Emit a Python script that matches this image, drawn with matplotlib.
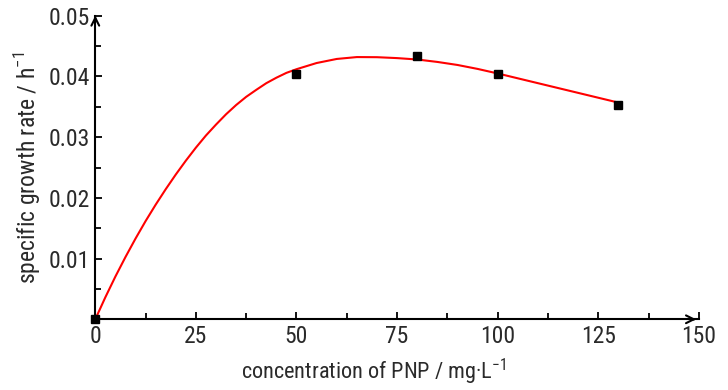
import matplotlib
matplotlib.use("Agg")
import matplotlib.pyplot as plt
from matplotlib import font_manager

# Measured data
conc = [0, 50, 80, 100, 130]
rate = [0.0, 0.0404, 0.0434, 0.0404, 0.0353]

# Fitted curve
fit_x = [0, 2.5, 5, 7.5, 10, 12.5, 15, 17.5, 20, 22.5, 25, 27.5, 30, 32.5, 35,
         37.5, 40, 42.5, 45, 47.5, 50, 55, 60, 65, 70, 75,
         80, 85, 90, 95, 100, 105, 110, 115, 120, 125, 130]
fit_y = [0.0, 0.00363, 0.00705, 0.01026, 0.0133, 0.01618, 0.01888, 0.02143,
         0.02385, 0.02613, 0.02828, 0.03028, 0.03208, 0.03378, 0.0353,
         0.03665, 0.0378, 0.0389, 0.0398, 0.0406, 0.0412, 0.04222,
         0.04289, 0.0432, 0.04318, 0.04303, 0.0428, 0.0424, 0.0419, 0.04125,
         0.0405, 0.0397, 0.0389, 0.0381, 0.0373, 0.0365, 0.0357]

x_ticks = [0, 25, 50, 75, 100, 125, 150]
y_ticks = [0.01, 0.02, 0.03, 0.04, 0.05]

fam = "Liberation Sans"
stretch = "normal"
for f in font_manager.fontManager.ttflist:
    if "Narrow" in f.name and "Liberation" in f.name:
        fam = f.name
        break
else:
    for f in font_manager.fontManager.ttflist:
        if f.name in ("Roboto Condensed", "Open Sans Condensed"):
            fam = f.name
            break
    else:
        for f in font_manager.fontManager.ttflist:
            if f.name == "DejaVu Sans" and str(f.stretch) in ("condensed", "semi-condensed"):
                fam = "DejaVu Sans"
                stretch = "condensed"
                break

plt.rcParams["font.family"] = [fam, "DejaVu Sans"]
plt.rcParams["font.stretch"] = stretch
plt.rcParams["mathtext.fontset"] = "custom"
plt.rcParams["mathtext.rm"] = fam

TXT = "#2a2a2a"
fig = plt.figure(figsize=(7.28, 3.9), dpi=100)
ax = fig.add_axes([0.1309, 0.1813, 0.960 - 0.1309, 0.9595 - 0.1813])

ax.plot(fit_x, fit_y, color="#ff0000", lw=1.5, zorder=2, solid_joinstyle="round")
ax.plot(conc, rate, ls="none", marker="s", ms=6, color="black", zorder=3, clip_on=False)

ax.set_xlim(0, 150)
ax.set_ylim(0, 0.05)
ax.set_xticks(x_ticks)
ax.set_xticklabels([str(t) for t in x_ticks])
ax.set_yticks(y_ticks)
ax.set_yticklabels(["%.2f" % t for t in y_ticks])
ax.set_xticks([12.5, 37.5, 62.5, 87.5, 112.5, 137.5], minor=True)
ax.set_yticks([0.005, 0.015, 0.025, 0.035, 0.045], minor=True)

ax.tick_params(axis="both", which="both", direction="in", width=1.3, colors="black",
               labelsize=17, labelcolor=TXT)
ax.tick_params(axis="both", which="major", length=5, pad=4)
ax.tick_params(axis="both", which="minor", length=4)

for s in ["top", "right"]:
    ax.spines[s].set_visible(False)
for s in ["left", "bottom"]:
    ax.spines[s].set_linewidth(1.5)

# arrow heads
ax.annotate("", xy=(1.0, 0), xycoords="axes fraction", xytext=(0.985, 0),
            arrowprops=dict(arrowstyle="->", lw=1.5, color="black", mutation_scale=14))
ax.annotate("", xy=(0, 1.01), xycoords="axes fraction", xytext=(0, 0.97),
            arrowprops=dict(arrowstyle="->", lw=1.5, color="black", mutation_scale=14))

ax.text(0.4617, -0.174, "concentration of PNP / mg·L$^{-1}$", transform=ax.transAxes,
        ha="center", va="center", fontsize=16, color=TXT)
ax.set_ylabel("specific growth rate / h$^{-1}$", fontsize=17, color=TXT, labelpad=4)

fig.savefig("out.png", dpi=100)
